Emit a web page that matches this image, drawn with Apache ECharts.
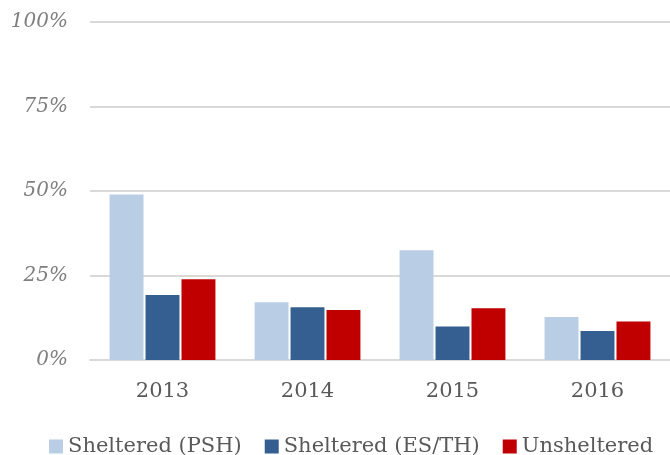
<!DOCTYPE html>
<html>
<head>
<meta charset="utf-8">
<script src="https://cdn.jsdelivr.net/npm/echarts@6/dist/echarts.min.js"></script>
<style>
  html, body { margin: 0; padding: 0; background: #fff; }
  #chart { width: 670px; height: 455px; }
</style>
</head>
<body>
<div id="chart"></div>
<script>
var years = ['2013', '2014', '2015', '2016'];
var seriesNames = ['Sheltered (PSH)', 'Sheltered (ES/TH)', 'Unsheltered'];
var psh = [49, 17.1, 32.5, 12.7];
var esth = [19.2, 15.6, 9.9, 8.6];
var unsheltered = [23.9, 14.8, 15.3, 11.4];
var colors = ['#b9cde5', '#355f91', '#c00000'];

var font = '"DejaVu Serif", "Liberation Serif", serif';

var chart = echarts.init(document.getElementById('chart'));
var values = [psh, esth, unsheltered];
chart.setOption({
    animation: false,
    textStyle: { fontFamily: font },
    grid: { left: 90, right: 0, top: 22, bottom: 95, containLabel: false },
    legend: {
        top: 431,
        left: 44,
        itemWidth: 14,
        itemHeight: 14,
        itemGap: 23,
        icon: 'rect',
        textStyle: { fontFamily: font, fontSize: 21, color: '#595959' },
        data: seriesNames
    },
    xAxis: {
        type: 'category',
        data: years,
        axisLine: { lineStyle: { color: '#d9d9d9', width: 2 } },
        axisTick: { show: false },
        axisLabel: { fontFamily: font, fontSize: 21, color: '#595959', margin: 21 }
    },
    yAxis: {
        type: 'value',
        min: 0,
        max: 100,
        interval: 25,
        axisLine: { show: false },
        axisTick: { show: false },
        splitLine: { lineStyle: { color: '#d9d9d9', width: 2 } },
        axisLabel: {
            fontFamily: font, fontSize: 20, fontStyle: 'italic', color: '#7f7f7f', margin: 22,
            formatter: '{value}%'
        }
    },
    series: seriesNames.map(function (n, i) {
        return {
            name: n,
            type: 'bar',
            data: values[i],
            barGap: '6%',
            barCategoryGap: '27%',
            itemStyle: { color: colors[i] }
        };
    })
});
</script>
</body>
</html>
